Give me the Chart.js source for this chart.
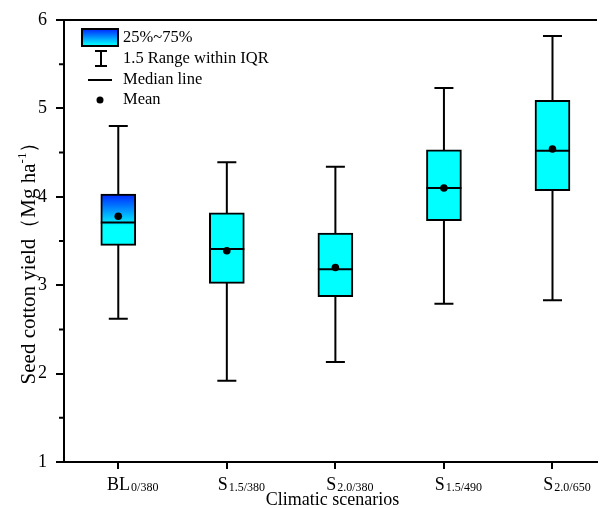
<!DOCTYPE html>
<html>
<head>
<meta charset="utf-8">
<script src="https://cdn.jsdelivr.net/npm/chart.js@4/dist/chart.umd.min.js"></script>
<style>
    body { margin: 0; background: #fff; }
    #wrap { width: 601px; height: 508px; }
</style>
</head>
<body>
<div id="wrap"><canvas id="yieldChart" width="601" height="508"></canvas></div>
<script>
// Values (Mg ha-1)
const scenarioNames = ['BL', 'S', 'S', 'S', 'S'];
const scenarioSubs = ['0/380', '1.5/380', '2.0/380', '1.5/490', '2.0/650'];
const whiskerLow = [2.62, 1.92, 2.13, 2.79, 2.83];
const q1 = [3.45, 3.02, 2.87, 3.73, 4.07];
const medians = [3.71, 3.41, 3.18, 4.10, 4.52];
const q3 = [4.03, 3.82, 3.59, 4.53, 5.09];
const whiskerHigh = [4.80, 4.39, 4.34, 5.23, 5.82];
const means = [3.78, 3.39, 3.20, 4.10, 4.54];
const yTicks = [1, 2, 3, 4, 5, 6];
const yMinorTicks = [1.5, 2.5, 3.5, 4.5, 5.5];
const legendLabels = ['25%~75%', '1.5 Range within IQR', 'Median line', 'Mean'];

const SERIF = '"Liberation Serif", "Times New Roman", serif';

function blueGradient(ctx, top, bottom, stop) {
    const g = ctx.createLinearGradient(0, top, 0, bottom);
    g.addColorStop(0, '#0026ff');
    g.addColorStop(stop, '#00ffff');
    g.addColorStop(1, '#00ffff');
    return g;
}

// whiskers, medians, frame, labels and legend
const boxExtras = {
    id: 'boxExtras',
    beforeDatasetsDraw(chart) {
        const ctx = chart.ctx, x = chart.scales.x, y = chart.scales.y;
        ctx.save();
        ctx.strokeStyle = '#000';
        ctx.lineWidth = 2;
        whiskerLow.forEach((lo, i) => {
            const px = x.getPixelForValue(i + 1);
            const yLo = y.getPixelForValue(lo);
            const yHi = y.getPixelForValue(whiskerHigh[i]);
            ctx.beginPath();
            ctx.moveTo(px, yLo); ctx.lineTo(px, yHi);
            ctx.moveTo(px - 9.5, yLo); ctx.lineTo(px + 9.5, yLo);
            ctx.moveTo(px - 9.5, yHi); ctx.lineTo(px + 9.5, yHi);
            ctx.stroke();
        });
        ctx.restore();
    },
    afterDatasetDraw(chart, args) {
        if (args.meta.type !== 'bar') return;
        const ctx = chart.ctx, y = chart.scales.y;
        ctx.save();
        ctx.strokeStyle = '#000';
        ctx.lineWidth = 2;
        args.meta.data.forEach((bar, i) => {
            const { x, width } = bar.getProps(['x', 'width'], true);
            const py = y.getPixelForValue(medians[i]);
            ctx.beginPath();
            ctx.moveTo(x - width / 2, py);
            ctx.lineTo(x + width / 2, py);
            ctx.stroke();
        });
        ctx.restore();
    },
    afterDraw(chart) {
        const ctx = chart.ctx, area = chart.chartArea;
        const x = chart.scales.x, y = chart.scales.y;
        ctx.save();
        ctx.strokeStyle = '#000';
        ctx.fillStyle = '#000';
        ctx.lineWidth = 2;

        // top frame line
        ctx.beginPath();
        ctx.moveTo(area.left - 1, area.top);
        ctx.lineTo(area.right, area.top);
        ctx.stroke();

        // minor ticks on y
        ctx.beginPath();
        yMinorTicks.forEach(v => {
            const py = y.getPixelForValue(v);
            ctx.moveTo(area.left - 5, py);
            ctx.lineTo(area.left, py);
        });
        ctx.stroke();

        // x labels with subscripts
        ctx.textBaseline = 'alphabetic';
        ctx.textAlign = 'left';
        scenarioNames.forEach((name, i) => {
            const px = x.getPixelForValue(i + 1);
            ctx.font = '18px ' + SERIF;
            const w1 = ctx.measureText(name).width;
            ctx.font = '12px ' + SERIF;
            const w2 = ctx.measureText(scenarioSubs[i]).width;
            const start = px + 14 - (w1 + w2) / 2;
            ctx.font = '18px ' + SERIF;
            ctx.fillText(name, start, 490);
            ctx.font = '12px ' + SERIF;
            ctx.fillText(scenarioSubs[i], start + w1 + 1, 491);
        });

        // x title
        ctx.font = '18px ' + SERIF;
        ctx.textAlign = 'center';
        ctx.fillText('Climatic scenarios', (area.left + area.right) / 2 + 2, 505);

        // y title with superscript
        const parts = [
            { t: 'Seed cotton yield（Mg ha', size: 21, dy: 0 },
            { t: '-1', size: 13, dy: -9 },
            { t: '）', size: 21, dy: 0 }
        ];
        let total = 0;
        parts.forEach(p => {
            ctx.font = p.size + 'px ' + SERIF;
            p.w = ctx.measureText(p.t).width;
            total += p.w;
        });
        ctx.save();
        ctx.translate(35, 258);
        ctx.rotate(-Math.PI / 2);
        ctx.textAlign = 'left';
        let cx = -total / 2;
        parts.forEach(p => {
            ctx.font = p.size + 'px ' + SERIF;
            ctx.fillText(p.t, cx, p.dy);
            cx += p.w;
        });
        ctx.restore();

        // legend
        ctx.fillStyle = blueGradient(ctx, 29, 47, 0.9);
        ctx.fillRect(82, 29, 36, 17);
        ctx.strokeRect(82, 29, 36, 17);
        ctx.beginPath();
        ctx.moveTo(101, 51); ctx.lineTo(101, 66);
        ctx.moveTo(95, 51); ctx.lineTo(107, 51);
        ctx.moveTo(95, 66); ctx.lineTo(107, 66);
        ctx.moveTo(88, 80); ctx.lineTo(112, 80);
        ctx.stroke();
        ctx.fillStyle = '#000';
        ctx.beginPath();
        ctx.arc(100, 100, 3.5, 0, Math.PI * 2);
        ctx.fill();
        ctx.font = '16.5px ' + SERIF;
        ctx.textAlign = 'left';
        ctx.textBaseline = 'middle';
        [38, 59, 80, 100].forEach((ly, i) => ctx.fillText(legendLabels[i], 123, ly));

        ctx.restore();
    }
};

new Chart(document.getElementById('yieldChart'), {
    type: 'bar',
    data: {
        datasets: [
            {
                type: 'scatter',
                order: 0,
                data: means.map((m, i) => ({ x: i + 1, y: m })),
                pointRadius: 3.8,
                pointBackgroundColor: '#000',
                pointBorderWidth: 0
            },
            {
                order: 1,
                data: q1.map((lo, i) => ({ x: i + 1, y: [lo, q3[i]] })),
                barThickness: 35,
                borderColor: '#000',
                borderWidth: 2,
                borderSkipped: false,
                backgroundColor: c => {
                    if (c.dataIndex !== 0 || !c.chart.chartArea) return '#00ffff';
                    const y = c.chart.scales.y;
                    return blueGradient(c.chart.ctx, y.getPixelForValue(q3[0]), y.getPixelForValue(q1[0]), 0.62);
                }
            }
        ]
    },
    options: {
        responsive: false,
        animation: false,
        layout: { padding: { top: 20, right: 0, left: 0, bottom: 0 } },
        plugins: {
            legend: { display: false },
            tooltip: { enabled: false }
        },
        scales: {
            x: {
                type: 'linear',
                offset: false,
                min: 0.5,
                max: 5.41,
                afterBuildTicks: s => { s.ticks = scenarioSubs.map((_, i) => ({ value: i + 1 })); },
                afterFit: s => { s.height = 46; },
                ticks: { display: false },
                grid: { offset: false, drawOnChartArea: false, drawTicks: true, tickLength: 7, color: '#000', lineWidth: 2 },
                border: { display: true, color: '#000', width: 2 }
            },
            y: {
                min: 1,
                max: 6,
                afterBuildTicks: s => { s.ticks = yTicks.map(v => ({ value: v })); },
                afterFit: s => { s.width = 64; },
                ticks: { color: '#000', font: { family: SERIF, size: 18 }, padding: 9 },
                grid: { drawOnChartArea: false, tickLength: 8, color: '#000', lineWidth: 2 },
                border: { display: true, color: '#000', width: 2 }
            }
        }
    },
    plugins: [boxExtras]
});
</script>
</body>
</html>
